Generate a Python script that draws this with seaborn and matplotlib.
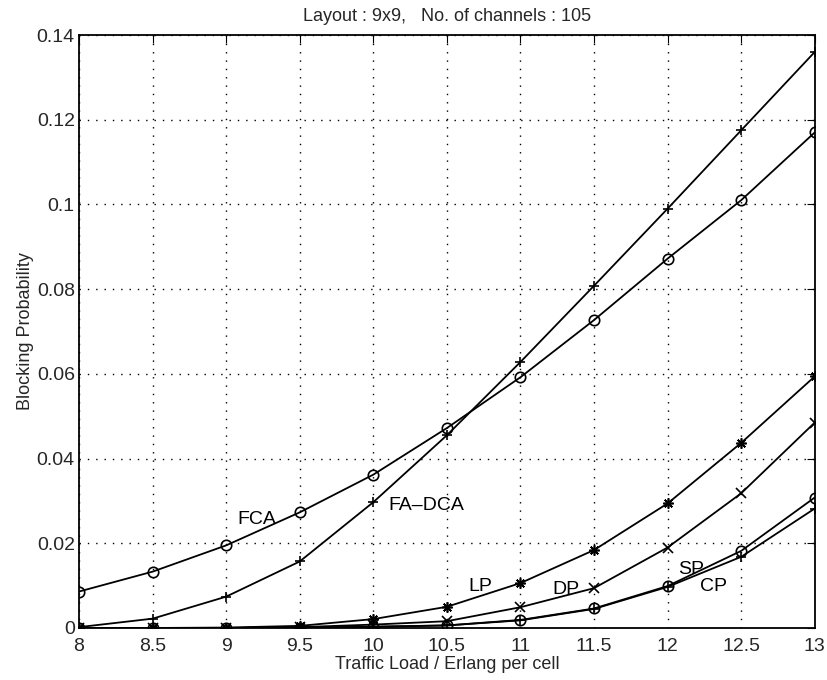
import matplotlib
matplotlib.use("Agg")
import matplotlib.pyplot as plt
import seaborn as sns
import pandas as pd

load = [8, 8.5, 9, 9.5, 10, 10.5, 11, 11.5, 12, 12.5, 13]
fca = [0.0086, 0.0133, 0.0195, 0.0273, 0.0362, 0.0472, 0.0592, 0.0727, 0.0872, 0.1010, 0.1170]
fa_dca = [0.0002, 0.0022, 0.0074, 0.0157, 0.0297, 0.0455, 0.0628, 0.0808, 0.0990, 0.1175, 0.1360]
lp = [0.0, 0.0, 0.0001, 0.0005, 0.0021, 0.0050, 0.0106, 0.0184, 0.0294, 0.0437, 0.0594]
dp = [0.0, 0.0, 0.0, 0.0002, 0.0008, 0.0016, 0.0049, 0.0094, 0.0190, 0.0318, 0.0485]
sp = [0.0, 0.0, 0.0, 0.0001, 0.0003, 0.0006, 0.0019, 0.0046, 0.0099, 0.0182, 0.0308]
cp = [0.0, 0.0, 0.0, 0.0001, 0.0003, 0.0006, 0.0018, 0.0045, 0.0097, 0.0168, 0.0282]

series_names = ["FCA", "FA-DCA", "LP", "DP", "SP", "CP"]
series_vals = [fca, fa_dca, lp, dp, sp, cp]
markers = {"FCA": "o", "FA-DCA": "+", "LP": (8, 2, 0), "DP": "x", "SP": "o", "CP": "+"}

xticks = [8, 8.5, 9, 9.5, 10, 10.5, 11, 11.5, 12, 12.5, 13]
xtick_labels = ["8", "8.5", "9", "9.5", "10", "10.5", "11", "11.5", "12", "12.5", "13"]
yticks = [0, 0.02, 0.04, 0.06, 0.08, 0.1, 0.12, 0.14]
ytick_labels = ["0", "0.02", "0.04", "0.06", "0.08", "0.1", "0.12", "0.14"]

rows = []
for name, vals in zip(series_names, series_vals):
    for x, y in zip(load, vals):
        rows.append({"load": x, "bp": y, "scheme": name})
df = pd.DataFrame(rows)

sns.set_style("white")
plt.rcParams["font.family"] = ["Liberation Sans", "DejaVu Sans"]

fig = plt.figure(figsize=(8.28, 6.8), dpi=100)
ax = fig.add_axes([0.0954, 0.0765, 0.8886, 0.872])

for name in series_names:
    sub = df[df["scheme"] == name]
    sns.lineplot(data=sub, x="load", y="bp", ax=ax, color="black", linewidth=1.3,
                 marker=markers[name], markersize=7.5, markerfacecolor="none",
                 markeredgecolor="black", markeredgewidth=1.2, legend=False)

ax.set_xlim(8, 13)
ax.set_ylim(0, 0.14)
ax.set_xticks(xticks)
ax.set_xticklabels(xtick_labels, fontsize=14)
ax.set_yticks(yticks)
ax.set_yticklabels(ytick_labels, fontsize=14)
ax.tick_params(direction="in", length=6, top=True, right=True, color="black")
ax.tick_params(axis="x", pad=7)
ax.tick_params(axis="y", pad=3)
ax.grid(True, linestyle=(0, (1, 5)), color="black", linewidth=1.0)
for s in ax.spines.values():
    s.set_color("black")
    s.set_linewidth(1.3)

ax.set_xlabel("Traffic Load / Erlang per cell", fontsize=13, labelpad=1)
ax.set_ylabel("Blocking Probability", fontsize=13, labelpad=2)
ax.set_title("Layout : 9x9,   No. of channels : 105", fontsize=13, pad=10)

txt = dict(fontsize=14, color="black")
ax.text(9.21, 0.0255, "FCA", ha="center", va="center", **txt)
ax.text(10.1, 0.0288, "FA\u2013DCA", ha="left", va="center", **txt)
ax.text(10.73, 0.0099, "LP", ha="center", va="center", **txt)
ax.text(11.31, 0.0090, "DP", ha="center", va="center", **txt)
ax.text(12.16, 0.0139, "SP", ha="center", va="center", **txt)
ax.text(12.31, 0.0097, "CP", ha="center", va="center", **txt)

fig.savefig("out.png", dpi=100, facecolor="white")
